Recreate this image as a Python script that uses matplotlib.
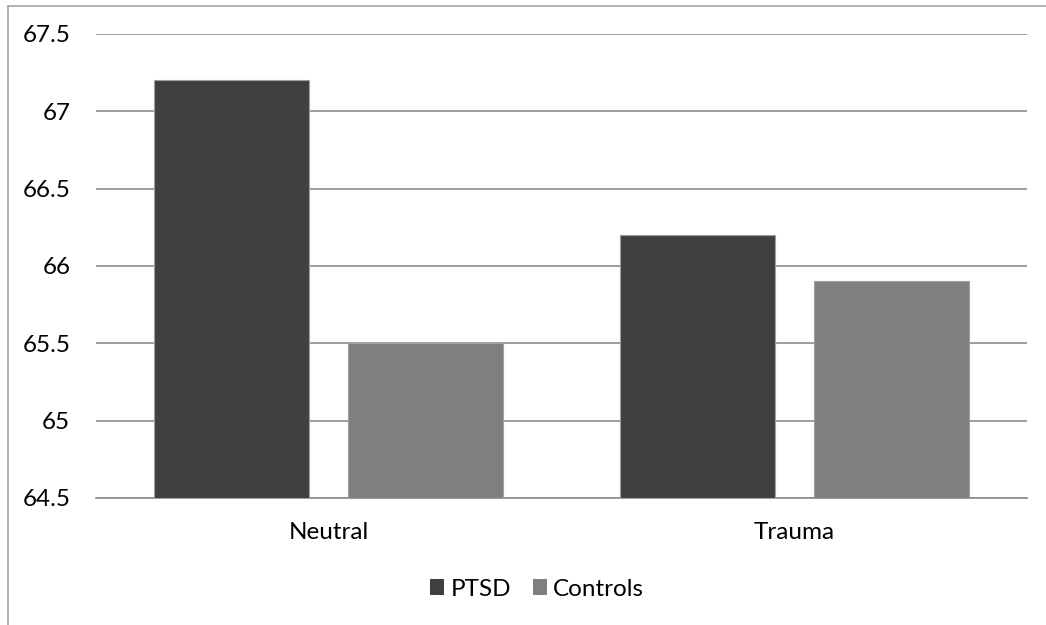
import matplotlib
matplotlib.use("Agg")
import matplotlib.pyplot as plt
from matplotlib.lines import Line2D
import numpy as np

categories = ["Neutral", "Trauma"]
series_names = ["PTSD", "Controls"]
ptsd = [67.2, 66.2]
controls = [65.5, 65.9]
y_ticks = [64.5, 65, 65.5, 66, 66.5, 67, 67.5]
y_tick_labels = ["64.5", "65", "65.5", "66", "66.5", "67", "67.5"]

colors = ["#404040", "#7f7f7f"]
edge = "#a0a0a0"

plt.rcParams["font.family"] = ["Lato", "DejaVu Sans"]

fig = plt.figure(figsize=(10.46, 6.25), dpi=100)
ax = fig.add_axes([96 / 1046, (625 - 498) / 625, (1027 - 96) / 1046, (498 - 34) / 625])

x = np.arange(len(categories))
bar_w = 0.333
gap = 0.084
off = bar_w / 2 + gap / 2
ax.bar(x - off, [v - 64.5 for v in ptsd], bottom=64.5, width=bar_w,
       color=colors[0], edgecolor=edge, linewidth=0.8, label=series_names[0], zorder=3)
ax.bar(x + off, [v - 64.5 for v in controls], bottom=64.5, width=bar_w,
       color=colors[1], edgecolor=edge, linewidth=0.8, label=series_names[1], zorder=3)

ax.set_xlim(-0.5, len(categories) - 0.5)
ax.set_ylim(64.5, 67.5)
ax.set_yticks(y_ticks)
ax.set_yticklabels(y_tick_labels)
ax.set_xticks(x)
ax.set_xticklabels(categories)
ax.tick_params(axis="both", length=0, labelsize=17.5, colors="black")
ax.tick_params(axis="y", pad=18.5)
ax.tick_params(axis="x", pad=17.5)
ax.yaxis.grid(True, color="#8c8c8c", linewidth=1.2, zorder=0)
ax.set_axisbelow(True)
for s in ["top", "right", "left"]:
    ax.spines[s].set_visible(False)
ax.spines["bottom"].set_color("#8c8c8c")
ax.spines["bottom"].set_linewidth(1.2)

leg = fig.legend(loc="center", bbox_to_anchor=(537 / 1046, 1 - 589 / 625), ncol=2,
                 frameon=False, fontsize=17.5, handlelength=0.6, handleheight=0.6,
                 handletextpad=0.25, columnspacing=0.9)
for h in leg.legend_handles:
    h.set_edgecolor("none")

# outer chart border (left and top edges)
fig.add_artist(Line2D([7.5 / 1046, 7.5 / 1046], [0, 1 - 5.5 / 625], transform=fig.transFigure,
                      color="#a6a6a6", linewidth=1.2))
fig.add_artist(Line2D([7.5 / 1046, 1], [1 - 5.5 / 625, 1 - 5.5 / 625], transform=fig.transFigure,
                      color="#a6a6a6", linewidth=1.2))

fig.savefig("out.png", dpi=100, facecolor="white")
